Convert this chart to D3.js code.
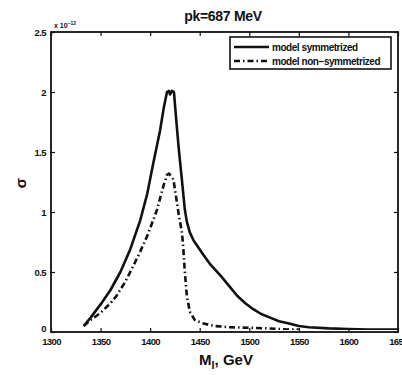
<!DOCTYPE html>
<html><head><meta charset="utf-8">
<script src="https://cdn.jsdelivr.net/npm/d3@7"></script>
<style>body{margin:0;background:#fff}svg{display:block}text{font-family:"Liberation Sans",Arial,sans-serif;font-weight:bold;fill:#111}</style>
</head><body><svg id="c" width="402" height="375"></svg>
<script>
const titleText = "pk=687 MeV";
const xTicks = [1300,1350,1400,1450,1500,1550,1600,1650];
const yTicks = [0,0.5,1,1.5,2,2.5];
const seriesNames = ["model symmetrized","model non\u2212symmetrized"];
const symX = [1333,1340,1350,1360,1370,1380,1390,1397,1403,1410,1414,1417,1419,1420,1422,1424,1426,1428.6,1432,1435,1437,1440,1444,1454,1460,1471,1480,1488,1496,1504,1512,1521,1530,1538,1550,1560,1580,1600,1620,1650];
const symY = [0.05,0.12,0.23,0.35,0.50,0.69,0.93,1.15,1.40,1.68,1.88,2.00,2.01,1.98,2.01,2.00,1.80,1.55,1.27,1.02,0.92,0.83,0.76,0.64,0.57,0.47,0.38,0.30,0.24,0.19,0.15,0.12,0.09,0.075,0.05,0.04,0.03,0.025,0.02,0.02];
const nonX = [1333,1340,1350,1360,1366,1375,1383,1390,1397,1403,1407,1413.5,1417,1419,1421,1423.5,1427,1429,1432,1433,1435,1437,1440,1445,1454,1465,1480,1500,1520,1540,1550];
const nonY = [0.05,0.10,0.16,0.24,0.30,0.42,0.55,0.67,0.80,0.93,1.02,1.22,1.31,1.32,1.30,1.27,1.08,0.97,0.83,0.75,0.50,0.30,0.17,0.10,0.07,0.05,0.04,0.035,0.03,0.02,0.02];

const svg = d3.select("#c");
const L=51, R=398, T=32, B=332;
const x = d3.scaleLinear().domain([1300,1650]).range([L,R]);
const y = d3.scaleLinear().domain([0,2.5]).range([B,T]);

const gx = svg.append("g").attr("transform",`translate(0,${B})`)
  .call(d3.axisBottom(x).tickValues(xTicks).tickSize(-4).tickPadding(6).tickFormat(d3.format("d")));
const gxt = svg.append("g").attr("transform",`translate(0,${T})`)
  .call(d3.axisTop(x).tickValues(xTicks).tickSize(-4).tickFormat(""));
const gy = svg.append("g").attr("transform",`translate(${L},0)`)
  .call(d3.axisLeft(y).tickValues(yTicks).tickSize(-4).tickPadding(5).tickFormat(d=>String(d)));
const gyr = svg.append("g").attr("transform",`translate(${R},0)`)
  .call(d3.axisRight(y).tickValues(yTicks).tickSize(-4).tickFormat(""));
[gx,gxt,gy,gyr].forEach(g=>{
  g.selectAll(".domain").remove();
  g.selectAll("line").attr("stroke","#111").attr("stroke-width",1.2);
  g.selectAll("text").style("font-size","9.5px").style("font-weight","bold").attr("fill","#111").style("letter-spacing","-0.6px");
});
gy.selectAll(".tick").filter(d=>d===0).select("text").attr("dy","-0.1em");
svg.append("rect").attr("x",L).attr("y",T).attr("width",R-L).attr("height",B-T)
  .attr("fill","none").attr("stroke","#111").attr("stroke-width",1.8);

const line = d3.line().x(d=>x(d[0])).y(d=>y(d[1])).curve(d3.curveLinear);
svg.append("clipPath").attr("id","cp").append("rect").attr("x",L).attr("y",T-5).attr("width",R-L).attr("height",B-T+3);
svg.append("path").datum(symX.map((v,i)=>[v,symY[i]])).attr("d",line)
  .attr("fill","none").attr("stroke","#111").attr("stroke-width",2.6).attr("stroke-linejoin","round").attr("clip-path","url(#cp)");
svg.append("path").datum(nonX.map((v,i)=>[v,nonY[i]])).attr("d",line)
  .attr("fill","none").attr("stroke","#111").attr("stroke-width",2.6).attr("stroke-dasharray","6,3,1.5,3").attr("clip-path","url(#cp)");

svg.append("text").attr("x",223).attr("y",21).attr("text-anchor","middle").style("font-size","14px").style("letter-spacing","-0.3px").text(titleText);
const ex = svg.append("text").attr("x",54).attr("y",28).style("font-size","7px");
ex.append("tspan").text("x 10");
ex.append("tspan").attr("dy",-3).style("font-size","5px").text("\u221212");
const xl = svg.append("text").attr("x",226).attr("y",365).attr("text-anchor","middle").style("font-size","15px");
xl.append("tspan").text("M");
xl.append("tspan").attr("dy",4).style("font-size","11px").text("l");
xl.append("tspan").attr("dy",-4).text(", GeV");
svg.append("text").attr("transform","translate(26,183) rotate(-90)").attr("text-anchor","middle").style("font-size","15px").text("\u03c3");

const lg = svg.append("g");
lg.append("rect").attr("x",230).attr("y",37).attr("width",161).attr("height",32).attr("fill","#fff").attr("stroke","#111").attr("stroke-width",1.6);
const rows=[{n:seriesNames[0],dash:null,yy:47},{n:seriesNames[1],dash:"6,3,1.5,3",yy:61}];
rows.forEach(r=>{
  lg.append("line").attr("x1",234).attr("x2",269).attr("y1",r.yy).attr("y2",r.yy).attr("stroke","#111").attr("stroke-width",2.4).attr("stroke-dasharray",r.dash);
  lg.append("text").attr("x",272).attr("y",r.yy+3.5).style("font-size","10px").style("letter-spacing","-0.45px").text(r.n);
});
</script></body></html>
